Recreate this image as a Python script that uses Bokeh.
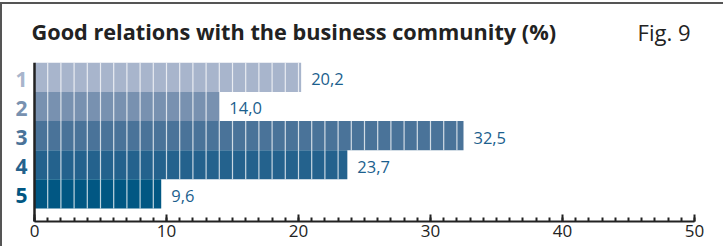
from bokeh.plotting import figure
from bokeh.models import (ColumnDataSource, Range1d, LabelSet, Label,
                          SingleIntervalTicker)
from bokeh.core.properties import value
from bokeh.embed import file_html
from bokeh.resources import INLINE

# ---- data ----
title_text = "Good relations with the business community (%)"
fig_text = "Fig. 9"
categories = ["1", "2", "3", "4", "5"]
values = [20.2, 14.0, 32.5, 23.7, 9.6]
bar_colors = ["#a8b5cc", "#7891b0", "#4a7399", "#24628d", "#015783"]
x_min, x_max = 0, 50
tick_step = 10

FONT = "Open Sans"
DARK = "#222222"

n = len(categories)
pos = [n - 1 - i for i in range(n)]
labels = [f"{v:.1f}".replace(".", ",") for v in values]

src = ColumnDataSource(dict(cat=categories, val=values, pos=pos,
                            color=bar_colors, lab=labels))

# unit separators inside each bar (one every 1 %)
sx, sy0, sy1 = [], [], []
for v, y in zip(values, pos):
    k = 1
    while k < v:
        sx.append(k)
        sy0.append(y - 0.5)
        sy1.append(y + 0.5)
        k += 1
sep = ColumnDataSource(dict(x=sx, y0=sy0, y1=sy1))

y_top = max(pos) + 0.5
y_lo = y_top - n - 0.448

p = figure(width=723, height=244,
           x_range=Range1d(-2.424, x_max),
           y_range=Range1d(y_lo, y_top + 2.0),
           y_axis_location=None,
           output_backend="svg", toolbar_location=None,
           min_border_left=0, min_border_right=31,
           min_border_top=0, min_border_bottom=27,
           margin=(2, 0, 0, 0),
           styles={"border-top": "2px solid #555", "border-left": "2px solid #555"})
p.outline_line_color = None
p.background_fill_color = "white"
p.border_fill_color = "white"
p.xgrid.visible = False
p.ygrid.visible = False

p.hbar(y="pos", right="val", left=0, height=1.0, color="color",
       line_color=None, source=src)
p.segment(x0="x", y0="y0", x1="x", y1="y1", source=sep,
          line_color="white", line_alpha=0.75, line_width=1.2)
# vertical axis line at 0
p.segment(x0=[x_min], y0=[y_lo], x1=[x_min], y1=[y_top],
          line_color=DARK, line_width=2.5)

# x axis
xa = p.xaxis[0]
xa.bounds = (x_min, x_max)
xa.ticker = SingleIntervalTicker(interval=tick_step, num_minor_ticks=10)
xa.axis_line_width = 2
xa.axis_line_color = DARK
xa.major_tick_in = 7
xa.major_tick_out = 0
xa.minor_tick_in = 4
xa.minor_tick_out = 0
xa.major_tick_line_width = 2
xa.minor_tick_line_width = 2
xa.major_tick_line_color = DARK
xa.minor_tick_line_color = DARK
xa.major_label_text_font = FONT
xa.major_label_text_font_size = "17px"
xa.major_label_text_color = DARK
xa.major_label_standoff = 3

# value labels
p.add_layout(LabelSet(x="val", y="pos", text="lab", source=src,
                      x_offset=10, y_offset=-2, text_baseline="middle",
                      text_font=value(FONT), text_font_size="16.5px",
                      text_color="#1c5f8e"))
# category labels
p.add_layout(LabelSet(x=x_min, y="pos", text="cat", source=src,
                      x_offset=-7, y_offset=-2, text_align="right",
                      text_baseline="middle", text_color="color",
                      text_font=value(FONT), text_font_size="21px",
                      text_font_style="bold"))

p.add_layout(Label(x=29, y=190, x_units="screen", y_units="screen",
                   text=title_text, text_font=FONT, text_font_size="21.7px",
                   text_font_style="bold", text_color=DARK,
                   text_baseline="alphabetic"))
p.add_layout(Label(x=688, y=190, x_units="screen", y_units="screen",
                   text=fig_text, text_font=FONT, text_font_size="22px",
                   text_color=DARK, text_baseline="alphabetic",
                   text_align="right"))

open("out.html", "w").write(file_html(p, INLINE))
